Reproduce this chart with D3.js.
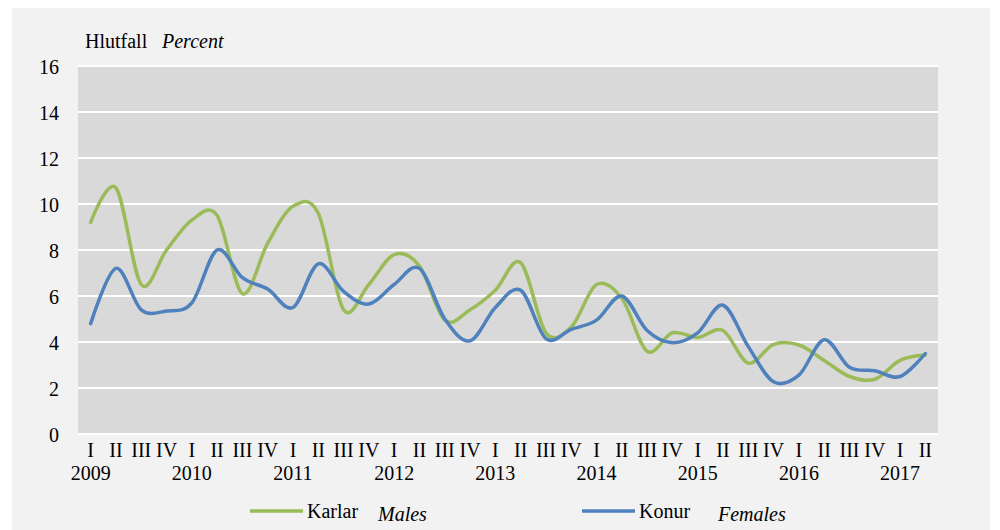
<!DOCTYPE html>
<html>
<head>
<meta charset="utf-8">
<script src="https://cdn.jsdelivr.net/npm/d3@7"></script>
<style>
  body { margin: 0; background: #fff; }
</style>
</head>
<body>
<svg width="1000" height="530"></svg>
<script>
const years = ['2009', '2010', '2011', '2012', '2013', '2014', '2015', '2016', '2017'];
const quarterNames = ['I', 'II', 'III', 'IV'];
const males = [9.2, 10.7, 6.5, 8.0, 9.3, 9.5, 6.1, 8.3, 9.9, 9.6, 5.4, 6.5,
  7.8, 7.3, 4.95, 5.4, 6.25, 7.45, 4.4, 4.65, 6.5, 5.9, 3.6, 4.4,
  4.2, 4.5, 3.08, 3.9, 3.87, 3.2, 2.5, 2.38, 3.2, 3.43];
const females = [4.8, 7.2, 5.4, 5.35, 5.7, 8.0, 6.8, 6.3, 5.5, 7.4, 6.2, 5.65,
  6.5, 7.2, 5.0, 4.05, 5.5, 6.25, 4.15, 4.55, 4.95, 6.0, 4.5, 3.97,
  4.4, 5.6, 3.8, 2.27, 2.56, 4.1, 2.9, 2.75, 2.5, 3.5];
const yTicks = [0, 2, 4, 6, 8, 10, 12, 14, 16];

// build quarter categories 2009 I .. 2017 II
const cats = [];
years.forEach(yr => quarterNames.forEach(q => cats.push({ year: yr, q })));
cats.length = males.length;
cats.forEach((c, i) => c.key = i);

const fontSize = 20;
const serif = 'Liberation Serif';
const svg = d3.select('svg');
const plotLeft = 78, plotRight = 938, plotTop = 66, plotBottom = 434;

svg.append('rect').attr('x', 12).attr('y', 8).attr('width', 978).attr('height', 522).attr('fill', '#f2f2f2');
svg.append('rect').attr('x', plotLeft).attr('y', plotTop)
  .attr('width', plotRight - plotLeft).attr('height', plotBottom - plotTop).attr('fill', '#d9d9d9');

const x = d3.scaleBand().domain(cats.map(c => c.key)).range([plotLeft, plotRight]);
const y = d3.scaleLinear().domain([0, 16]).range([plotBottom, plotTop]);

// gridlines
svg.append('g').selectAll('line').data(yTicks).join('line')
  .attr('x1', plotLeft).attr('x2', plotRight)
  .attr('y1', d => y(d)).attr('y2', d => y(d))
  .attr('stroke', '#fff').attr('stroke-width', 2);

// y axis labels
const yAxis = svg.append('g').attr('transform', 'translate(59,0)')
  .call(d3.axisLeft(y).tickValues(yTicks).tickSize(0).tickPadding(0));
yAxis.select('.domain').remove();
yAxis.attr('font-size', fontSize).attr('font-family', serif);
yAxis.selectAll('text').attr('dy', '0.35em').attr('fill', '#000');

// x axis: quarters and years
const xAxis = svg.append('g').attr('transform', `translate(0,${plotBottom})`)
  .call(d3.axisBottom(x).tickSize(0).tickPadding(0).tickFormat(i => cats[i].q));
xAxis.select('.domain').remove();
xAxis.attr('font-size', fontSize).attr('font-family', serif);
xAxis.selectAll('text').attr('dy', null).attr('y', 23).attr('fill', '#000');

svg.append('g').selectAll('text').data(cats.filter(c => c.q === 'I')).join('text')
  .attr('x', c => x(c.key) + x.bandwidth() / 2)
  .attr('y', 480)
  .attr('text-anchor', 'middle')
  .attr('font-family', serif)
  .attr('font-size', fontSize)
  .text(c => c.year);

// title
const title = svg.append('text').attr('x', 85).attr('y', 48)
  .attr('font-family', serif).attr('font-size', fontSize);
title.append('tspan').text('Hlutfall');
title.append('tspan').attr('x', 162).attr('font-style', 'italic').text('Percent');

// lines
const line = d3.line()
  .x((d, i) => x(i) + x.bandwidth() / 2)
  .y(d => y(d))
  .curve(d3.curveCardinal.tension(0));

const series = [
  { name: 'Karlar', en: 'Males', values: males, color: '#9bbb59' },
  { name: 'Konur', en: 'Females', values: females, color: '#4f81bd' }
];

svg.append('g').selectAll('path').data(series).join('path')
  .attr('d', s => line(s.values))
  .attr('fill', 'none')
  .attr('stroke', s => s.color)
  .attr('stroke-width', 3.5)
  .attr('stroke-linecap', 'round');

// legend
const legendX = [250, 582];
const enX = [128, 136];
const lg = svg.append('g').selectAll('g').data(series).join('g')
  .attr('transform', (s, i) => `translate(${legendX[i]},511)`)
  .attr('font-family', serif).attr('font-size', fontSize);
lg.append('line').attr('x1', 0).attr('x2', 53).attr('y1', 0).attr('y2', 0)
  .attr('stroke', s => s.color).attr('stroke-width', 3.5);
lg.append('text').attr('x', 57).attr('y', 7).text(s => s.name);
lg.append('text').attr('x', (s, i) => enX[i]).attr('y', 10)
  .attr('font-style', 'italic').text(s => s.en);
</script>
</body>
</html>
